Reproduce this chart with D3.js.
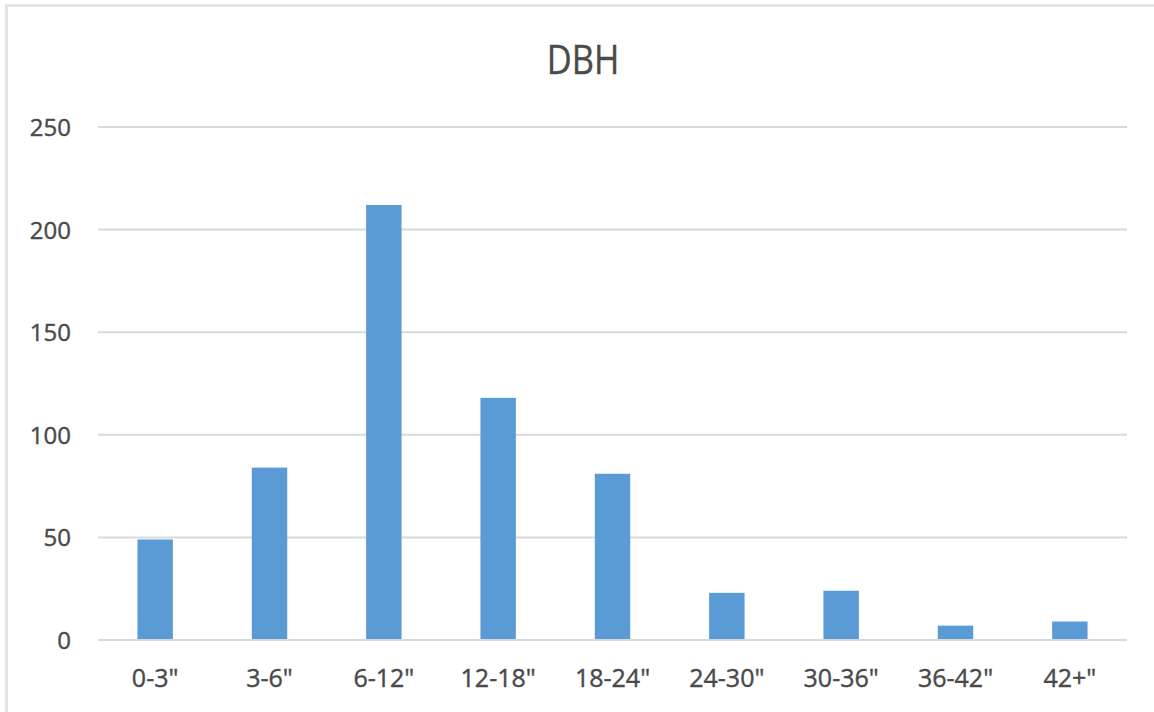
<!DOCTYPE html>
<html>
<head>
<meta charset="utf-8">
<script src="https://cdn.jsdelivr.net/npm/d3@7"></script>
<style>
  html, body { margin: 0; padding: 0; background: #ffffff; }
  svg { display: block; }
  text { font-family: "Open Sans", "Liberation Sans", sans-serif; fill: #4a4a4a; }
</style>
</head>
<body>
<script>
// ---- data ----
const categories = ["0-3\"", "3-6\"", "6-12\"", "12-18\"", "18-24\"", "24-30\"", "30-36\"", "36-42\"", "42+\""];
const values = [49, 84, 212, 118, 81, 23, 24, 7, 9];
const yTicks = [0, 50, 100, 150, 200, 250];
const title = "DBH";

// ---- layout ----
const W = 1154, H = 712;
const margin = { left: 98, right: 27, top: 127, bottom: 72 };
const textColor = "#4a4a4a";

const svg = d3.select("body").append("svg")
  .attr("width", W).attr("height", H);

// chart frame (light border at left/top)
svg.append("rect")
  .attr("x", 6.5).attr("y", 5.5)
  .attr("width", W + 10).attr("height", H + 10)
  .attr("fill", "#ffffff")
  .attr("stroke", "#e4e4e4")
  .attr("stroke-width", 3);

const x = d3.scaleBand()
  .domain(categories)
  .range([margin.left, W - margin.right])
  .paddingInner(0.69)
  .paddingOuter(0.345);

const y = d3.scaleLinear()
  .domain([0, 250])
  .range([H - margin.bottom, margin.top]);

// gridlines
svg.append("g")
  .selectAll("line")
  .data(yTicks)
  .join("line")
  .attr("x1", margin.left)
  .attr("x2", W - margin.right)
  .attr("y1", d => y(d))
  .attr("y2", d => y(d))
  .attr("stroke", "#d9d9d9")
  .attr("stroke-width", 2);

// y axis labels
const yAxis = d3.axisLeft(y).tickValues(yTicks).tickSize(0).tickPadding(0);
const gy = svg.append("g")
  .attr("transform", `translate(${margin.left - 27},0)`)
  .call(yAxis);
gy.select(".domain").remove();
gy.selectAll("text")
  .attr("font-size", 24)
  .attr("fill", textColor)
  .attr("stroke", textColor)
  .attr("stroke-width", 0.4)
  .attr("font-family", "'Open Sans', sans-serif")
  .attr("dy", "0.35em");

// bars
svg.append("g")
  .selectAll("rect")
  .data(values)
  .join("rect")
  .attr("x", (d, i) => x(categories[i]))
  .attr("width", x.bandwidth())
  .attr("y", d => y(d))
  .attr("height", d => y(0) - y(d))
  .attr("fill", "#5b9bd5");

// x axis line
svg.append("line")
  .attr("x1", margin.left).attr("x2", W - margin.right)
  .attr("y1", y(0)).attr("y2", y(0))
  .attr("stroke", "#d9d9d9").attr("stroke-width", 2);

// x axis labels
const xAxis = d3.axisBottom(x).tickSize(0).tickPadding(0);
const gx = svg.append("g")
  .attr("transform", `translate(0,${y(0) + 47})`)
  .call(xAxis);
gx.select(".domain").remove();
gx.selectAll("text")
  .attr("font-size", 25)
  .attr("fill", textColor)
  .attr("stroke", textColor)
  .attr("stroke-width", 0.4)
  .attr("font-family", "'Open Sans', sans-serif")
  .attr("dy", null)
  .attr("y", 0);

// title
svg.append("text")
  .attr("transform", `translate(${583},${74}) scale(0.84,1)`)
  .attr("text-anchor", "middle")
  .attr("font-size", 41)
  .attr("fill", textColor)
  .attr("stroke", textColor)
  .attr("stroke-width", 0.4)
  .text(title);
</script>
</body>
</html>
